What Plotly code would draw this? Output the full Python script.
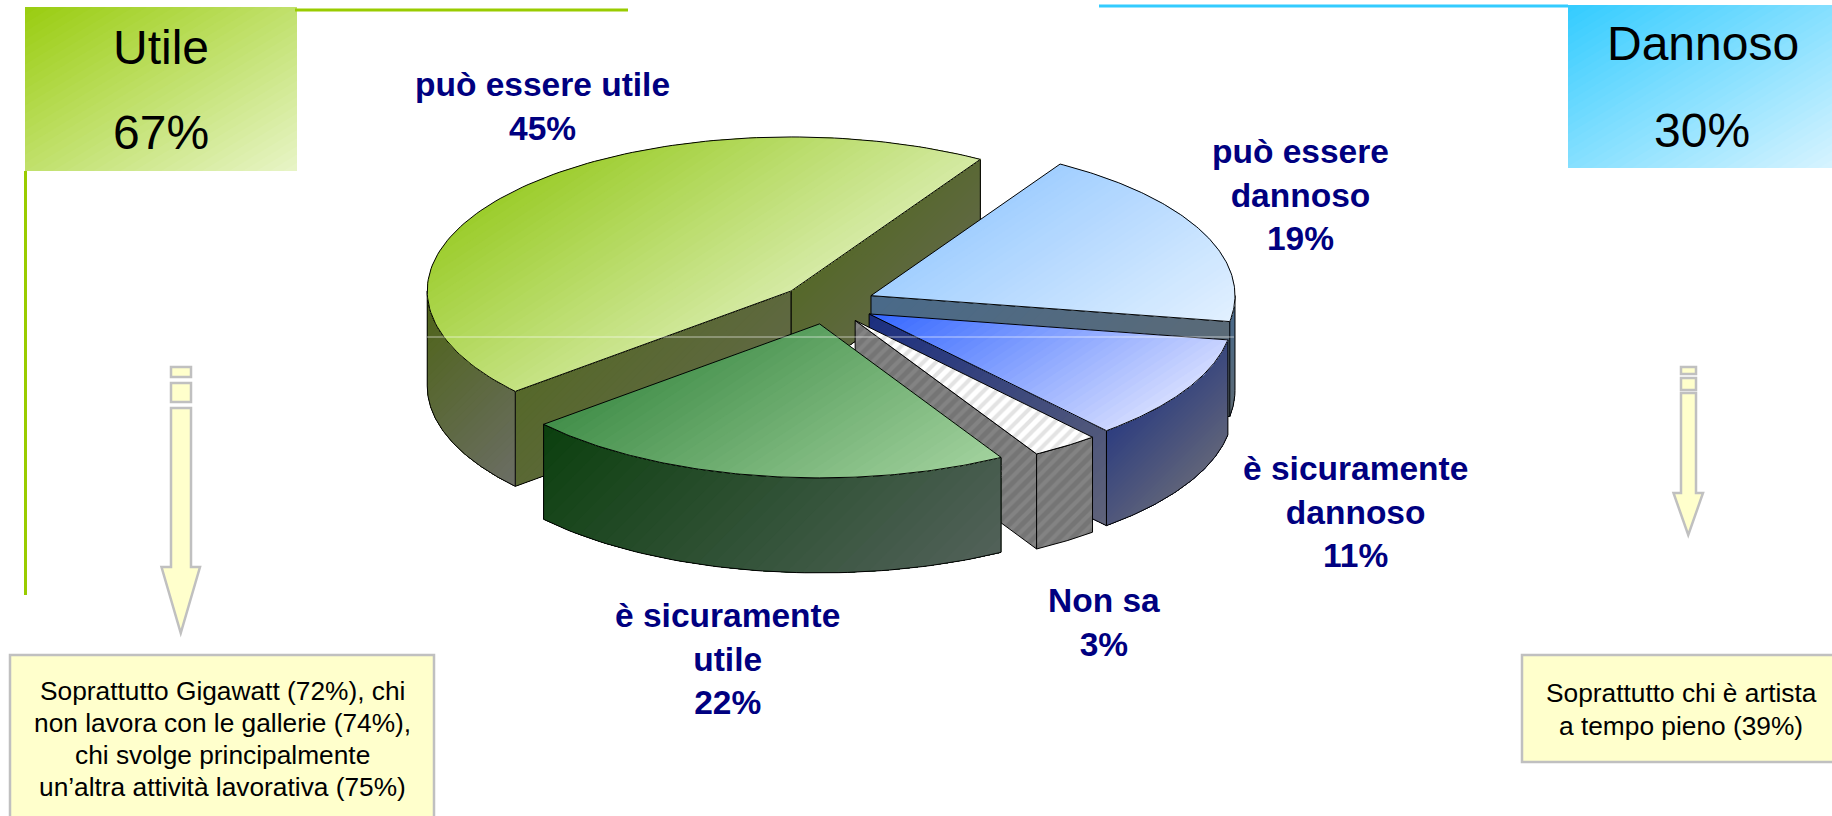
import numpy as np
import plotly.graph_objects as go

# ---------- data ----------
categories = ["può essere utile", "può essere dannoso", "è sicuramente dannoso", "Non sa", "è sicuramente utile"]
label_lines = [["può essere utile"], ["può essere", "dannoso"], ["è sicuramente", "dannoso"], ["Non sa"], ["è sicuramente", "utile"]]
values = [45, 19, 11, 3, 22]
label_x = [542, 1300, 1355, 1104, 727]
label_y = [106, 195, 512, 622, 659]
summary_titles = ["Utile", "Dannoso"]
summary_values = [67, 30]
left_note = ["Soprattutto Gigawatt (72%), chi", "non lavora con le gallerie (74%),", "chi svolge principalmente", "un’altra attività lavorativa (75%)"]
right_note = ["Soprattutto chi è artista", "a tempo pieno (39%)"]

# ---------- pie geometry (pixel-sized axes) ----------
CX, CY, RX, RY, DEPTH, EXPLODE = 827.6, 304.0, 364.0, 154.0, 95.0, 0.131
START = 220.7
TOP_COL = [("#9CCD2C", "#D6EBA6"), ("#A2CFFF", "#E2F1FF"), ("#3366FF", "#D4DCFF"), None, ("#428F4A", "#A2D29E")]
ARC_COL = [("#4E6416", "#6C6E66"), ("#476A8E", "#5E6A74"), ("#2E3E80", "#60647A"), None, ("#0C400E", "#52625A")]
CUT_COL = [("#56682A", "#626848"), ("#4A6A8A", "#5E6A74"), ("#1C2F80", "#60647A"), None, ("#0C400E", "#52625A")]
TOP_DIR = (0.55, 0.83)
WALL_DIR = (0.71, 0.71)
BOX_DIR = (0.52, 0.86)
NAVY = "#000080"


def hex2rgb(h):
    return np.array([int(h[i:i + 2], 16) for i in (1, 3, 5)], float)


def clip(poly, d, s):
    out = []
    n = len(poly)
    for i in range(n):
        p, q = poly[i], poly[(i + 1) % n]
        a, b = p @ d - s, q @ d - s
        if a >= 0:
            out.append(p)
        if (a >= 0) != (b >= 0):
            out.append(p + (q - p) * a / (a - b))
    return out


fig = go.Figure()


def add_poly(pts, color):
    pts = np.asarray(pts)
    fig.add_trace(go.Scatter(x=pts[:, 0], y=pts[:, 1], mode="lines", fill="toself", fillcolor=color,
                             line=dict(width=0), hoverinfo="skip", showlegend=False))


def gradient(pts, c0, c1, direction, bands=36):
    pts = np.asarray(pts, float)
    d = np.array(direction, float)
    proj = pts @ d
    lo, hi = proj.min(), proj.max()
    a, b = hex2rgb(c0), hex2rgb(c1)
    poly = list(pts)
    for k in range(bands):
        f = k / bands
        s = lo + (hi - lo) * f
        part = clip(poly, d, s)
        if len(part) < 3:
            continue
        col = a + (b - a) * (f + 0.5 / bands)
        add_poly(part, "rgb(%d,%d,%d)" % tuple(col))


def outline(pts, color="#000000", width=1.0):
    pts = np.asarray(pts)
    fig.add_trace(go.Scatter(x=np.r_[pts[:, 0], pts[0, 0]], y=np.r_[pts[:, 1], pts[0, 1]], mode="lines",
                             line=dict(color=color, width=width), hoverinfo="skip", showlegend=False))


def hatch(pts, bg, fg):
    pts = np.asarray(pts)
    fig.add_trace(go.Scatter(x=pts[:, 0], y=pts[:, 1], mode="lines", fill="toself",
                             fillcolor=bg, fillpattern=dict(shape="/", bgcolor=bg, fgcolor=fg, size=9, solidity=0.45),
                             line=dict(width=0), hoverinfo="skip", showlegend=False))


def region(pts, cols, hatch_cols, direction):
    if cols is None:
        hatch(pts, *hatch_cols)
    else:
        gradient(pts, *cols, direction)
    outline(pts)


a0 = START
for i, v in enumerate(values):
    a1 = a0 - v * 3.6
    mid = np.radians((a0 + a1) / 2)
    ax = CX + EXPLODE * RX * np.cos(mid)
    ay = CY - EXPLODE * RY * np.sin(mid)

    def rim(t):
        t = np.radians(t)
        return np.column_stack([ax + RX * np.cos(t), ay - RY * np.sin(t)])

    down = np.array([0, DEPTH])
    apex = np.array([ax, ay])
    # cut walls that face the viewer
    for ang, sign in ((a0, -1), (a1, 1)):
        ny = -sign * np.cos(np.radians(ang))
        if ny < 0:
            r = rim(np.array([ang]))[0]
            region([apex, r, r + down, apex + down], CUT_COL[i], ("#757575", "#929292"), WALL_DIR)
    # outer wall, lower half of the ellipse only
    for lo, hi in ((-180, 0), (180, 360)):
        s, e = min(a0, hi), max(a1, lo)
        if s > e:
            t = np.linspace(s, e, 60)
            r = rim(t)
            region(np.vstack([r, r[::-1] + down]), ARC_COL[i], ("#757575", "#929292"), WALL_DIR)
    # top face
    t = np.linspace(a0, a1, 120)
    region(np.vstack([apex, rim(t)]), TOP_COL[i], ("#FFFFFF", "#C8C8C8"), TOP_DIR)
    a0 = a1

# thin light seam across the pie
fig.add_shape(type="line", x0=427, x1=1234, y0=337, y1=337, line=dict(color="rgba(255,255,255,0.6)", width=1))

# ---------- summary boxes ----------
gradient([(25, 7), (297, 7), (297, 171), (25, 171)], "#9ACD10", "#E8F5C8", BOX_DIR, 40)
gradient([(1568, 5), (1832, 5), (1832, 168), (1568, 168)], "#33CCFF", "#D8F4FF", BOX_DIR, 40)
fig.add_shape(type="line", x0=295, x1=628, y0=10, y1=10, line=dict(color="#99CC00", width=3))
fig.add_shape(type="line", x0=25.5, x1=25.5, y0=171, y1=595, line=dict(color="#99CC00", width=3))
fig.add_shape(type="line", x0=1099, x1=1568, y0=6, y1=6, line=dict(color="#33CCFF", width=3))

# ---------- arrows and note boxes ----------
ARROW = dict(fillcolor="#FFFFCC", line=dict(color="#C0C0C0", width=2.5))


def arrow(x0, x1, hx0, hx1, r1, r2, top, sh, tip):
    xm = (hx0 + hx1) / 2
    fig.add_shape(type="rect", x0=x0, x1=x1, y0=r1[0], y1=r1[1], **ARROW)
    fig.add_shape(type="rect", x0=x0, x1=x1, y0=r2[0], y1=r2[1], **ARROW)
    fig.add_shape(type="path", path=f"M{x0},{top}L{x1},{top}L{x1},{sh}L{hx1},{sh}L{xm},{tip}L{hx0},{sh}L{x0},{sh}Z", **ARROW)


arrow(171, 191, 161.5, 200, (367, 377), (383, 402), 408, 567, 633)
arrow(1681, 1696, 1673.5, 1703, (367, 374), (378, 390), 393, 493, 535)
fig.add_shape(type="rect", x0=10, x1=434, y0=655, y1=818, **ARROW)
fig.add_shape(type="rect", x0=1522, x1=1836, y0=655, y1=762, **ARROW)

# ---------- text ----------
def text(x, y, s, size, color="#000000", bold=False):
    fig.add_annotation(x=x, y=y, text=f"<b>{s}</b>" if bold else s, showarrow=False, xanchor="center", yanchor="middle",
                       font=dict(family="Liberation Sans", size=size, color=color))


for lines, v, x, y in zip(label_lines, values, label_x, label_y):
    text(x, y, "<br>".join(lines + [f"{v}%"]), 33.5, NAVY, True)

text(161, 47, summary_titles[0], 48)
text(161, 132, f"{summary_values[0]}%", 48)
text(1703, 43, summary_titles[1], 48)
text(1702, 130, f"{summary_values[1]}%", 48)
for s, y in zip(left_note, [691, 723, 755, 787]):
    text(222, y, s, 26.3)
for s, y in zip(right_note, [693, 726]):
    text(1681, y, s, 26.3)

fig.update_layout(width=1832, height=816, margin=dict(l=0, r=0, t=0, b=0), paper_bgcolor="white", plot_bgcolor="white",
                  showlegend=False,
                  xaxis=dict(range=[0, 1832], visible=False, fixedrange=True),
                  yaxis=dict(range=[816, 0], visible=False, fixedrange=True))
fig.write_html("out.html", config=dict(displayModeBar=False),
               post_script="document.body.style.margin='0';document.body.style.overflow='hidden';")
